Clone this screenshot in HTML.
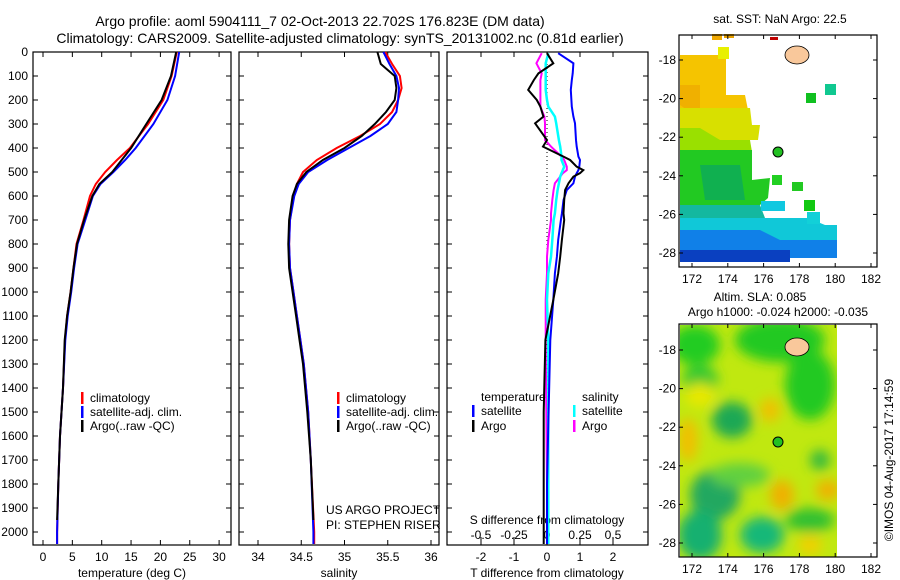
<!DOCTYPE html>
<html><head><meta charset="utf-8"><style>
body{margin:0;background:#fff;}
svg{display:block;font-family:"Liberation Sans",sans-serif;}
</style></head><body>
<svg id="c" width="900" height="580" viewBox="0 0 900 580" xmlns="http://www.w3.org/2000/svg">
<text x="320" y="26" font-size="14" text-anchor="middle">Argo profile: aoml 5904111_7 02-Oct-2013 22.702S 176.823E (DM data)</text>
<text x="340" y="43" font-size="14" text-anchor="middle">Climatology: CARS2009. Satellite-adjusted climatology: synTS_20131002.nc (0.81d earlier)</text>
<text x="780" y="23" font-size="12" text-anchor="middle">sat. SST: NaN Argo: 22.5</text>
<text x="760" y="301" font-size="12" text-anchor="middle">Altim. SLA: 0.085</text>
<text x="778" y="316" font-size="12" text-anchor="middle">Argo h1000: -0.024 h2000: -0.035</text>
<text transform="translate(893,460) rotate(-90)" font-size="12" text-anchor="middle">©IMOS 04-Aug-2017 17:14:59</text>
<g id="g"></g>
</svg>
<script>
// ---- data ----
const tDepth = [0,100,200,300,400,450,500,550,600,700,800,900,1000,1100,1200,1400,1600,1800,2000,2050];
const tClim  = [22.8,21.9,20.5,17.9,14.8,12.6,10.6,9.0,8.0,6.9,5.7,5.2,4.7,4.1,3.75,3.4,2.9,2.6,2.4,2.4];
const tSat   = [23.2,22.5,21.2,18.8,15.8,14.0,12.0,9.8,8.5,7.2,5.9,5.3,4.8,4.2,3.8,3.4,2.9,2.6,2.4,2.4];
const tArgoDepth = [0,100,200,300,400,450,500,550,600,700,800,900,1000,1100,1200,1400,1600,1800,1950];
const tArgo  = [22.7,21.8,20.2,17.6,15.0,13.4,11.8,9.6,8.4,7.0,5.8,5.2,4.7,4.1,3.7,3.4,2.9,2.6,2.4];
const sDepth = [0,50,100,150,200,250,300,350,400,450,500,550,600,700,800,900,1000,1100,1200,1300,1500,1700,2000,2050];
const sClim  = [35.47,35.55,35.64,35.66,35.62,35.55,35.41,35.18,34.91,34.68,34.52,34.45,34.41,34.37,34.36,34.37,34.41,34.45,34.49,34.53,34.58,34.61,34.65,34.65];
const sSat   = [35.45,35.52,35.60,35.63,35.62,35.60,35.50,35.30,35.05,34.80,34.58,34.47,34.42,34.37,34.36,34.37,34.41,34.45,34.49,34.53,34.58,34.61,34.64,34.64];
const sArgoDepth = [0,50,100,150,200,250,300,350,400,450,500,550,600,700,800,900,1000,1100,1200,1300,1500,1700,1950];
const sArgo  = [35.38,35.42,35.58,35.60,35.58,35.48,35.35,35.20,35.00,34.75,34.56,34.45,34.40,34.36,34.35,34.36,34.40,34.44,34.48,34.52,34.57,34.61,34.64];
const dDepth = [5,47,89,117,158,200,228,269,297,367,394,436,450,478,492,505,519,547,575,617,672,700,783,853,922,1033,1200,1500,1800,2050];
const dTSat  = [0.34,0.8,0.78,0.75,0.72,0.74,0.75,0.8,0.85,0.88,0.9,0.95,1.0,0.98,0.95,0.9,0.85,0.8,0.6,0.5,0.45,0.42,0.34,0.3,0.24,0.19,0.1,0.05,0.0,0.0];
const dTArgo = [0,0.19,-0.26,-0.4,-0.57,-0.31,-0.2,-0.11,-0.36,0,-0.12,0.5,0.7,0.9,1.1,1.0,0.8,0.65,0.55,0.52,0.5,0.52,0.45,0.4,0.34,0.19,-0.05,-0.1,-0.1,-0.1];
const dSArgo = [-0.04,-0.08,-0.04,-0.05,-0.05,-0.05,-0.05,-0.02,-0.015,-0.015,0.03,0.11,0.13,0.15,0.15,0.12,0.1,0.06,0.05,0.04,0.03,0.03,0.01,0.0,0.0,-0.01,-0.01,-0.005,0,0];
const dSSat  = [0.01,-0.01,-0.01,-0.01,-0.01,0.0,0.01,0.06,0.07,0.09,0.1,0.11,0.11,0.13,0.12,0.11,0.1,0.09,0.08,0.07,0.06,0.05,0.04,0.03,0.01,0.0,0.01,0.01,0.01,0.01];
const depthTicks = [0,100,200,300,400,500,600,700,800,900,1000,1100,1200,1300,1400,1500,1600,1700,1800,1900,2000];
const tTicks = [0,5,10,15,20,25,30];
const sTicks = [34,34.5,35,35.5,36];
const sTickLabels = ["34","34.5","35","35.5","36"];
const dtTicks = [-2,-1,0,1,2];
const dsTicks = [-0.5,-0.25,0,0.25,0.5];
const lonTicks = [172,174,176,178,180,182];
const latTicks = [18,20,22,24,26,28];

// ---- scales ----
const yD = d => 52 + d*0.24;
const xT = t => 43 + t*5.87;
const xS = s => 258 + (s-34)*86.5;
const xDT = v => 547 + v*33;
const xDS = v => 547 + v*132;
const NS="http://www.w3.org/2000/svg", G=document.getElementById('g');
function el(tag, at, parent){const e=document.createElementNS(NS,tag);for(const k in at)e.setAttribute(k,at[k]);(parent||G).appendChild(e);return e;}
function txt(x,y,s,anchor,size){const t=el('text',{x:x,y:y,'font-size':size||12,'text-anchor':anchor||'start'});t.textContent=s;return t;}
function line(xs,ds,xf,color,w,name){
  const p=xs.map((v,i)=>xf(v).toFixed(1)+','+yD(ds[i]).toFixed(1)).join(' ');
  const e=el('polyline',{points:p,fill:'none',stroke:color,'stroke-width':w});
  
  
}
const panels=[[33,231],[239,439],[447,648]];
const TOP=52,BOT=545;
panels.forEach((p,i)=>{
  const r=el('rect',{x:p[0],y:TOP,width:p[1]-p[0],height:BOT-TOP,fill:'none',stroke:'#000','stroke-width':1.2});
  
  
  depthTicks.forEach(d=>{
    el('line',{x1:p[0],x2:p[0]+5,y1:yD(d),y2:yD(d),stroke:'#000'});
    el('line',{x1:p[1]-5,x2:p[1],y1:yD(d),y2:yD(d),stroke:'#000'});
  });
});
depthTicks.forEach(d=>{const t=txt(28,yD(d)+4,String(d),'end');
  
  });
tTicks.forEach(v=>{const x=xT(v);el('line',{x1:x,x2:x,y1:TOP,y2:TOP+5,stroke:'#000'});el('line',{x1:x,x2:x,y1:BOT-5,y2:BOT,stroke:'#000'});
  const t=txt(x,561,String(v),'middle');
  
  });
sTicks.forEach((v,i)=>{const x=xS(v);el('line',{x1:x,x2:x,y1:TOP,y2:TOP+5,stroke:'#000'});el('line',{x1:x,x2:x,y1:BOT-5,y2:BOT,stroke:'#000'});
  const t=txt(x,561,sTickLabels[i],'middle');
  
  });
dtTicks.forEach(v=>{const x=xDT(v);el('line',{x1:x,x2:x,y1:TOP,y2:TOP+5,stroke:'#000'});el('line',{x1:x,x2:x,y1:BOT-5,y2:BOT,stroke:'#000'});
  const t=txt(x,561,String(v),'middle');
  
  });
dsTicks.forEach(v=>{const x=xDS(v);el('line',{x1:x,x2:x,y1:537,y2:BOT,stroke:'#000'});
  const t=txt(x,539,String(v),'middle');
  
  });
let t;
t=txt(132,577,'temperature (deg C)','middle');
t=txt(339,577,'salinity','middle');
t=txt(547,577,'T difference from climatology','middle');
t=txt(547,524,'S difference from climatology','middle');
t=txt(326,514,'US ARGO PROJECT');
t=txt(326,529,'PI: STEPHEN RISER');
el('line',{x1:547,x2:547,y1:TOP,y2:BOT,stroke:'#000','stroke-dasharray':'1,3'});
// series
line(tClim,tDepth,xT,'#f00',2,'temp-climatology-line');
line(tSat,tDepth,xT,'#00f',2,'temp-satellite-line');
line(tArgo,tArgoDepth,xT,'#000',2,'temp-argo-line');
line(sClim,sDepth,xS,'#f00',2,'sal-climatology-line');
line(sSat,sDepth,xS,'#00f',2,'sal-satellite-line');
line(sArgo,sArgoDepth,xS,'#000',2,'sal-argo-line');
line(dSArgo,dDepth,xDS,'#f0f',2,'sdiff-argo-line');
line(dSSat,dDepth,xDS,'#0ff',2.5,'sdiff-satellite-line');
line(dTSat,dDepth,xDT,'#00f',2,'tdiff-satellite-line');
line(dTArgo,dDepth,xDT,'#000',2,'tdiff-argo-line');
// legends
function leg(x,y,c,s,name){if(c)el('rect',{x:x,y:y-10,width:2.5,height:12,fill:c});const t=txt(x+9,y,s);
  
  }
leg(81,402,'#f00','climatology','legend-climatology');
leg(81,416,'#00f','satellite-adj. clim.','legend-satellite');
leg(81,430,'#000','Argo(..raw -QC)','legend-argo');
leg(337,402,'#f00','climatology','legend2-climatology');
leg(337,416,'#00f','satellite-adj. clim.','legend2-satellite');
leg(337,430,'#000','Argo(..raw -QC)','legend2-argo');
leg(472,401,null,'temperature','legend3-temperature');
leg(472,415,'#00f','satellite','legend3-t-satellite');
leg(472,430,'#000','Argo','legend3-t-argo');
leg(573,401,null,'salinity','legend3-salinity');
leg(573,415,'#0ff','satellite','legend3-s-satellite');
leg(573,430,'#f0f','Argo','legend3-s-argo');

// ---- maps ----
function mapFrame(y0,y1,lat18,lat28,name){
  const r=el('rect',{x:679,y:y0,width:198,height:y1-y0,fill:'none',stroke:'#000','stroke-width':1.2});
  
  
  const ly=l=>lat18+(l-18)*(lat28-lat18)/10;
  lonTicks.forEach(v=>{const x=692+(v-172)*17.9;el('line',{x1:x,x2:x,y1:y0,y2:y0+4,stroke:'#000'});el('line',{x1:x,x2:x,y1:y1-4,y2:y1,stroke:'#000'});
    const t=txt(x,y1+16,String(v),'middle');
    
    });
  latTicks.forEach(v=>{const y=ly(v);el('line',{x1:679,x2:683,y1:y,y2:y,stroke:'#000'});el('line',{x1:873,x2:877,y1:y,y2:y,stroke:'#000'});
    const t=txt(676,y+4,'-'+v,'end');
    
    });
}
const sst=[
 ['#f5c400','680,55 726,55 726,95 745,95 748,110 680,110'],
 ['#f0b000','680,85 700,85 700,112 690,112 680,105'],
 ['#d8e000','680,108 750,108 752,125 760,125 758,140 680,140'],
 ['#9ae000','680,128 700,128 720,140 750,140 752,152 680,152'],
 ['#22c922','680,150 752,150 752,180 770,178 768,198 760,205 680,205'],
 ['#10b050','700,165 740,165 745,200 705,200'],
 ['#14b8a0','680,205 760,205 765,218 680,218'],
 ['#10c8d8','680,218 808,218 825,225 837,225 837,240 680,240'],
 ['#1080e8','680,230 760,230 780,240 837,240 837,258 680,258'],
 ['#0a40c0','680,250 790,250 790,262 680,262']
];
sst.forEach(s=>{const p=el('polygon',{points:s[1],fill:s[0]});
  
  });
[[718,47,'#e8f000',11,12],[712,34,'#f0a800',10,6],[724,34,'#e8a000',10,4],[804,200,'#12c812',11,11],[792,182,'#22c922',11,9],[825,84,'#10c890',11,11],[806,93,'#10c020',10,10],[761,201,'#10c8e0',24,10],[772,175,'#22d022',10,10],[807,212,'#12d0d8',13,12],[770,37,'#c00000',8,3]].forEach(b=>{
  const r=el('rect',{x:b[0],y:b[1],width:b[3],height:b[4],fill:b[2]});
  
  });
const defs=el('defs',{});
const f=el('filter',{id:'bl',x:'-50%',y:'-50%',width:'200%',height:'200%'},defs);
el('feGaussianBlur',{stdDeviation:'6'},f);
const cp=el('clipPath',{id:'slaclip'},defs);
el('rect',{x:680,y:325,width:157,height:232},cp);
const sla=el('g',{'clip-path':'url(#slaclip)'});


el('rect',{x:680,y:325,width:157,height:232,fill:'#c0e810'},sla);
const blobs=el('g',{filter:'url(#bl)'},sla);
[[695,345,25,20,'#22cc22'],[780,340,45,22,'#22c922'],[810,385,25,35,'#22c922'],[700,380,18,15,'#30c830'],[732,420,20,18,'#1fa855'],[715,495,25,25,'#20a860'],[700,535,22,25,'#18b070'],[762,535,22,18,'#18b878'],[820,460,10,10,'#30b840'],[810,520,25,12,'#30c030'],[740,475,30,12,'#60d040'],[688,440,10,22,'#f0c000'],[770,410,10,12,'#f0c000'],[782,495,12,15,'#f0b000'],[828,490,12,10,'#f0b000'],[810,545,12,10,'#f0d000'],[700,395,15,12,'#e8e800']].forEach(b=>
  el('ellipse',{cx:b[0],cy:b[1],rx:b[2],ry:b[3],fill:b[4]},blobs));
mapFrame(35,267,60,253,'sst-map-frame');
mapFrame(324,557,350,543,'sla-map-frame');
[[55,'sst'],[347,'sla']].forEach(v=>{
  const e=el('ellipse',{cx:797,cy:v[0],rx:12,ry:9,fill:'#f9c89b',stroke:'#000','stroke-width':0.8});
  
  
});
[[152,'sst'],[442,'sla']].forEach(v=>{
  const c=el('circle',{cx:778,cy:v[0],r:5,fill:'#22c022',stroke:'#000','stroke-width':1});
  
  
});
</script>
</body></html>
